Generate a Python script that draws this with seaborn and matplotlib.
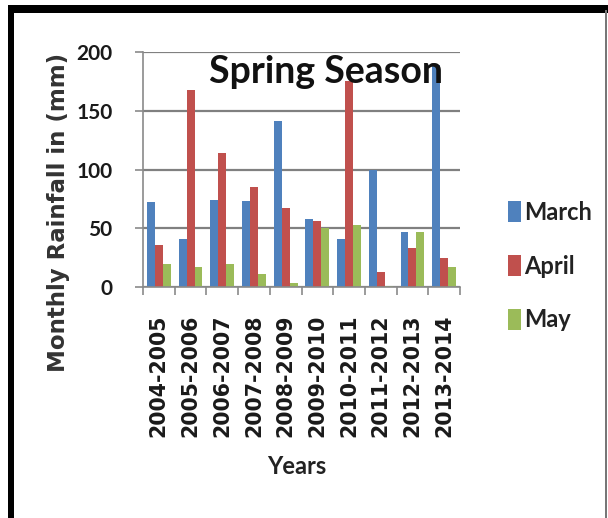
import matplotlib
matplotlib.use("Agg")
import matplotlib.pyplot as plt
from matplotlib.patches import Rectangle
import seaborn as sns
import pandas as pd

# Spring-season monthly rainfall (mm) per hydrological year
years = ["2004-2005", "2005-2006", "2006-2007", "2007-2008", "2008-2009",
         "2009-2010", "2010-2011", "2011-2012", "2012-2013", "2013-2014"]
march = [72, 41, 74, 73, 141, 58, 41, 100, 47, 189]
april = [36, 168, 114, 85, 67, 56, 175, 13, 33, 25]
may = [20, 17, 20, 11, 3, 50, 53, 1, 47, 17]
months = ["March", "April", "May"]
colors = ["#4F81BD", "#C0504D", "#9BBB59"]
yticks = [0, 50, 100, 150, 200]

df = pd.DataFrame({
    "Years": years * 3,
    "Month": [m for m in months for _ in years],
    "Rainfall": march + april + may,
})

sns.set_theme(style="white")
narrow = ["Lato", "DejaVu Sans"]
wide = ["DejaVu Sans"]

fig = plt.figure(figsize=(6.08, 5.18), dpi=100)
ax = fig.add_axes([143 / 608, 1 - 287 / 518, (460 - 143) / 608, (287 - 52) / 518])

sns.barplot(data=df, x="Years", y="Rainfall", hue="Month", hue_order=months,
            palette=colors, width=0.75, saturation=1, ax=ax, linewidth=0,
            errorbar=None)

ax.set_ylim(0, 200)
ax.set_xlim(-0.5, len(years) - 0.5)
ax.set_yticks(yticks)
ax.set_yticklabels([str(v) for v in yticks], family=narrow, fontweight="bold",
                   fontsize=15, color="#1a1a1a")
ax.set_xticks(range(len(years)))
ax.set_xticklabels(years, rotation=90, family=wide, fontweight="bold",
                   fontsize=14.8, color="#1a1a1a")
ax.set_xticks([i + 0.5 for i in range(-1, len(years))], minor=True)
ax.tick_params(axis="x", which="major", length=0, pad=20)
ax.tick_params(axis="x", which="minor", length=6, color="#8a8a8a", width=1.2,
               direction="out", bottom=True)
ax.tick_params(axis="y", length=6, color="#8a8a8a", width=1.2,
               direction="out", left=True, pad=16)

ax.set_axisbelow(True)
ax.yaxis.grid(True, color="#808080", linewidth=1.6)
ax.xaxis.grid(False)
for side in ["top", "right"]:
    ax.spines[side].set_visible(False)
for side in ["left", "bottom"]:
    ax.spines[side].set_color("#8a8a8a")
    ax.spines[side].set_linewidth(1.2)

ax.set_xlabel("Years", family=narrow, fontweight="bold", fontsize=17,
              color="#222222")
ax.xaxis.set_label_coords((297 - 143) / 317, (287 - 455) / 235)
ax.set_ylabel("Monthly Rainfall in (mm)", family=wide, fontweight="bold",
              fontsize=16.5, color="#333333")
ax.yaxis.set_label_coords((59 - 143) / 317, (287 - 212) / 235)
ax.yaxis.label.set_va("center")

fig.text(326 / 608, 1 - 83 / 518, "Spring Season", family=narrow,
         fontweight="bold", fontsize=27, color="#111111",
         ha="center", va="baseline")

leg = ax.legend(loc="center left", bbox_to_anchor=(508 / 608, 1 - 266 / 518),
                bbox_transform=fig.transFigure, frameon=False,
                handlelength=0.55, handleheight=1.0, handletextpad=0.15,
                labelspacing=1.3, borderaxespad=0, borderpad=0,
                prop={"family": narrow, "weight": "bold", "size": 17})
for t in leg.get_texts():
    t.set_color("#222222")

# Outer frame: heavy black top and left edges, thin grey right edge
fig.add_artist(Rectangle((8 / 608, 0), 6 / 608, 1 - 5 / 518,
                         transform=fig.transFigure, color="black", lw=0))
fig.add_artist(Rectangle((8 / 608, 1 - 13 / 518), 600 / 608, 8 / 518,
                         transform=fig.transFigure, color="black", lw=0))
fig.add_artist(Rectangle((605 / 608, 0), 1.5 / 608, 1 - 10 / 518,
                         transform=fig.transFigure, color="#777777", lw=0))

fig.savefig("out.png", dpi=100)
